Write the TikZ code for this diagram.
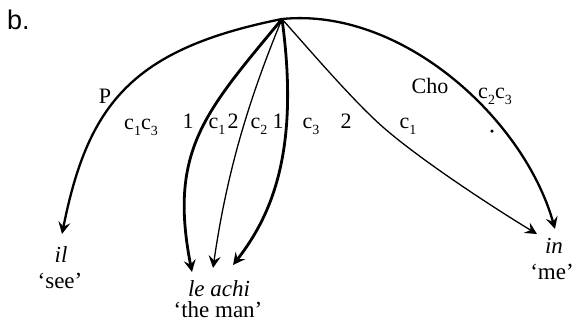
\documentclass[tikz,border=0pt]{standalone}
\usepackage{fontspec}
\setmainfont{Liberation Serif}
\newfontfamily\labelsans{Liberation Sans}
\usetikzlibrary{arrows.meta,calc}
\newcommand{\lsub}[1]{\raisebox{-0.28em}{\fontsize{14}{14}\selectfont #1}}
\begin{document}
\begin{tikzpicture}[x=1pt,y=-1pt,
  tip/.style={-{Stealth[length=12pt,width=12pt,inset=4.5pt]}},
  outerarc/.style={tip,line width=2.3pt},
  heavyarc/.style={tip,line width=2.8pt},
  thinarc/.style={tip,line width=1.3pt},
  word/.style={anchor=base,inner sep=0pt,font=\fontsize{23}{27}\selectfont},
  lab/.style={anchor=base,inner sep=0pt,font=\fontsize{22}{26}\selectfont}]
\useasboundingbox (0,0) rectangle (574,322);

\node[anchor=base west,inner sep=0pt,font=\labelsans\fontsize{27}{30}\selectfont] (blabel) at (7,29) {b.};

% hub and arrow end points
\coordinate (hub) at (282,19);
\coordinate (tIl) at (62,234);
\coordinate (tA) at (192,272);
\coordinate (tB) at (213,268);
\coordinate (tC) at (233,265);
\coordinate (tInA) at (537,234);
\coordinate (tInB) at (555,229);
\coordinate (bend) at (384,128);

% words
\node[word] (il) at (61,262) {\itshape il};
\node[word] (see) at (60,288) {‘see’};
\node[word] (leachi) at (219,296) {\itshape le achi};
\node[word] (theman) at (218,317) {‘the man’};
\node[word] (in) at (554,253) {\itshape in};
\node[word] (me) at (552,279) {‘me’};

% connectors
\draw[outerarc] (hub) .. controls (132,49) and (88,104) .. (tIl);
\draw[heavyarc] (hub) .. controls (206,111) and (168,150) .. (tA);
\draw[thinarc] (hub) .. controls (246,106) and (226,178) .. (tB);
\draw[heavyarc] (hub) .. controls (300,150) and (272,215) .. (tC);
\draw[thinarc] (hub) .. controls (307,47) and (354,102) .. (bend)
   .. controls (422,161) and (494,208) .. (tInA);
\draw[outerarc] (hub) .. controls (402,7) and (524,119) .. (tInB);

% labels
\node[lab] (lP) at (105,103) {P};
\node[lab] (lc13) at (141,129) {c\lsub{1}c\lsub{3}};
\node[lab] (l1a) at (188,128) {1};
\node[lab] (lc1a) at (217,128) {c\lsub{1}};
\node[lab] (l2a) at (233,128) {2};
\node[lab] (lc2) at (259,128) {c\lsub{2}};
\node[lab] (l1b) at (278,128) {1};
\node[lab] (lc3) at (311,128) {c\lsub{3}};
\node[lab] (l2b) at (346,128) {2};
\node[lab] (lc1b) at (408,128) {c\lsub{1}};
\node[lab] (lCho) at (430,93) {Cho};
\node[lab] (lc23) at (495,98) {c\lsub{2}c\lsub{3}};
\node[circle,fill,inner sep=0pt,minimum size=3.5pt] (dot) at (492,131) {};
\end{tikzpicture}
\end{document}
